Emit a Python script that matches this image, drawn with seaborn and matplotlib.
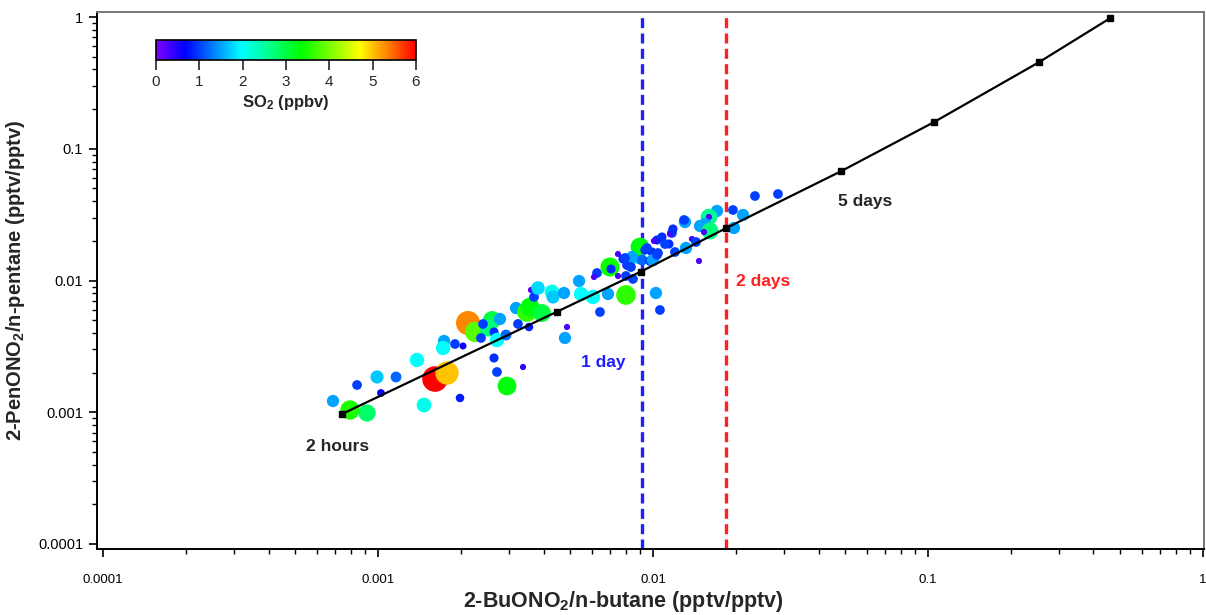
import numpy as np
import pandas as pd
import seaborn as sns
import matplotlib.pyplot as plt
from matplotlib.colors import LinearSegmentedColormap, Normalize

# observed alkyl nitrate / parent alkane ratios, coloured by SO2
buono2 = [0.000686, 0.000791, 0.000912, 0.000839, 0.001025, 0.000992, 0.001163, 0.001386,
          0.001612, 0.001782, 0.00147, 0.001987, 0.001738, 0.001724, 0.001905, 0.002038,
          0.002125, 0.002253, 0.002597, 0.002512, 0.002777, 0.002409, 0.002641, 0.002369,
          0.002708, 0.002921, 0.002641, 0.002708, 0.003368, 0.002945, 0.003176, 0.003229,
          0.003482, 0.00357, 0.003948, 0.003541, 0.003601, 0.003693, 0.003818, 0.004293,
          0.004329, 0.004748, 0.005383, 0.005474, 0.004868, 0.004786, 0.00605, 0.006416,
          0.006861, 0.007976, 0.01025, 0.0106, 0.006258, 0.006102, 0.006977, 0.007037,
          0.007461, 0.00778, 0.008044, 0.008248, 0.007461, 0.007976, 0.008457, 0.008745,
          0.008967, 0.009352, 0.00912, 0.009917, 0.009752, 0.01, 0.01043, 0.01034,
          0.01078, 0.01143, 0.01172, 0.01153, 0.01182, 0.01307, 0.01297, 0.01202,
          0.01318, 0.01386, 0.0147, 0.02349, 0.02848, 0.01954, 0.02125, 0.01709,
          0.01598, 0.01598, 0.01483, 0.01546, 0.01612, 0.01533, 0.0197, 0.01433,
          0.01106, 0.01008, 0.00951, 0.01034, 0.008388, 0.00791, 0.008318]
penono2 = [0.001217, 0.00104, 0.000987, 0.00161, 0.0014, 0.001852, 0.001852, 0.002493,
           0.001788, 0.001986, 0.001135, 0.001283, 0.003474, 0.003074, 0.003296, 0.003184,
           0.004757, 0.004066, 0.005014, 0.00436, 0.005103, 0.004675, 0.004066, 0.003661,
           0.003535, 0.003858, 0.002581, 0.002021, 0.002205, 0.001582, 0.006183, 0.00468,
           0.005767, 0.006292, 0.005667, 0.004437, 0.00847, 0.007496, 0.008772, 0.00818,
           0.007496, 0.008038, 0.009913, 0.007898, 0.004437, 0.003661, 0.007496, 0.005767,
           0.007898, 0.007761, 0.008038, 0.005973, 0.0114, 0.01063, 0.01266, 0.01223,
           0.01589, 0.01456, 0.01311, 0.01266, 0.01082, 0.01082, 0.01027, 0.01508,
           0.01796, 0.01704, 0.01431, 0.01645, 0.01406, 0.01431, 0.01617, 0.02029,
           0.02139, 0.01892, 0.02294, 0.02254, 0.0246, 0.0278, 0.02879, 0.01645,
           0.01765, 0.02065, 0.01406, 0.04379, 0.04534, 0.03428, 0.03143, 0.03369,
           0.03034, 0.03034, 0.02593, 0.02685, 0.02375, 0.02334, 0.02503, 0.0196,
           0.01892, 0.01994, 0.01765, 0.01562, 0.01508, 0.01482, 0.01266]
so2 = [1.5, 3.5, 2.8, 1.0, 0.7, 1.7, 1.2, 2.0,
       6.0, 5.0, 2.1, 0.8, 1.5, 2.0, 1.0, 0.6,
       5.3, 3.8, 3.0, 2.7, 1.5, 1.0, 0.9, 1.0,
       2.0, 1.2, 0.9, 1.0, 0.4, 3.3, 1.5, 1.0,
       3.6, 3.3, 3.0, 0.8, 0.3, 1.0, 1.8, 2.1,
       1.7, 1.5, 1.5, 2.0, 0.3, 1.5, 2.0, 1.0,
       1.5, 3.6, 1.5, 1.0, 1.0, 0.3, 3.4, 0.9,
       0.3, 0.9, 1.0, 0.8, 0.3, 1.0, 1.0, 1.8,
       3.3, 0.9, 1.2, 0.9, 1.0, 1.5, 1.0, 0.9,
       0.9, 0.9, 1.0, 0.3, 0.9, 1.5, 1.0, 1.0,
       1.5, 0.3, 0.3, 1.0, 1.0, 1.0, 1.5, 1.5,
       2.6, 0.3, 1.5, 1.5, 2.7, 0.3, 1.5, 1.0,
       1.0, 0.3, 1.0, 1.0, 1.5, 1.0, 1.0]

# photochemical clock (2 hours ... ~ weeks)
clock_bu = [0.00074, 0.00448, 0.00905, 0.0184, 0.0483, 0.105, 0.254, 0.46]
clock_pen = [0.00097, 0.0058, 0.0117, 0.0249, 0.0675, 0.159, 0.455, 0.98]

one_day = 0.0091
two_days = 0.0184

decades = [0.0001, 0.001, 0.01, 0.1, 1]
decade_labels = ['0.0001', '0.001', '0.01', '0.1', '1']

sns.set_style("ticks")
plt.rcParams['font.family'] = ['Liberation Sans', 'DejaVu Sans']
plt.rcParams['mathtext.default'] = 'regular'

rainbow = LinearSegmentedColormap.from_list(
    'igor_rainbow',
    [(0.0, '#8000ff'), (0.11, '#0000ff'), (0.33, '#00ffff'),
     (0.56, '#00ff00'), (0.785, '#ffff00'), (1.0, '#ff0000')])

df = pd.DataFrame({'bu': buono2, 'pen': penono2, 'so2': so2})

fig = plt.figure(figsize=(12.06, 6.15), dpi=100)
ax = fig.add_axes([97 / 1206, 66 / 615, 1107 / 1206, 537 / 615])

ax.axvline(one_day, color='#1f1fff', lw=2.4, ls=(0, (3, 1.6)), zorder=2)
ax.axvline(two_days, color='#ff2020', lw=2.4, ls=(0, (3, 1.6)), zorder=2)

sns.scatterplot(data=df, x='bu', y='pen', hue='so2', size='so2',
                palette=rainbow, hue_norm=(0, 6), size_norm=(0.5, 6), sizes=(20, 340),
                linewidth=0, legend=False, ax=ax, zorder=3)

ax.plot(clock_bu, clock_pen, color='black', lw=1.6, marker='s', ms=5, zorder=4)

ax.set_xscale('log')
ax.set_yscale('log')
ax.set_xlim(10 ** -4.022, 10 ** 0.004)
ax.set_ylim(10 ** -4.038, 10 ** 0.038)
ax.set_xticks(decades)
ax.set_xticklabels(decade_labels)
ax.set_yticks(decades)
ax.set_yticklabels(decade_labels)
ax.tick_params(which='major', direction='out', length=6, width=1.2, colors='black')
ax.tick_params(axis='x', which='major', labelsize=9.5, pad=12)
ax.tick_params(axis='y', which='major', labelsize=10.5, pad=4)
ax.tick_params(which='minor', direction='out', length=3.5, width=1.0, colors='black')

for side in ['left', 'bottom']:
    ax.spines[side].set_color('black')
    ax.spines[side].set_linewidth(1.4)
for side in ['top', 'right']:
    ax.spines[side].set_visible(True)
    ax.spines[side].set_color('#777777')
    ax.spines[side].set_linewidth(1.4)

ax.set_xlabel(r'2-BuONO$_2$/n-butane (pptv/pptv)', fontsize=15.5, fontweight='bold')
ax.xaxis.set_label_coords(0.475, -0.075)
ax.set_ylabel(r'2-PenONO$_2$/n-pentane (pptv/pptv)', fontsize=14.5, fontweight='bold')
ax.yaxis.set_label_coords(-0.063, 0.5)

ax.text(7.15e-4, 5.5e-4, '2 hours', fontsize=12.5, fontweight='bold', ha='center', va='center')
ax.text(6.6e-3, 2.37e-3, '1 day', fontsize=12.5, fontweight='bold', ha='center', va='center',
        color='#1f1fff')
ax.text(2.52e-2, 9.9e-3, '2 days', fontsize=12.5, fontweight='bold', ha='center', va='center',
        color='#ff2020')
ax.text(5.9e-2, 4.0e-2, '5 days', fontsize=12.5, fontweight='bold', ha='center', va='center')

# colour bar for SO2
cax = fig.add_axes([156 / 1206, 1 - 60 / 615, 260 / 1206, 20 / 615])
sm = plt.cm.ScalarMappable(cmap=rainbow, norm=Normalize(0, 6))
cb = fig.colorbar(sm, cax=cax, orientation='horizontal', ticks=range(7))
cb.outline.set_linewidth(1.2)
cb.outline.set_edgecolor('black')
cax.tick_params(length=7, width=1.2, labelsize=11, pad=4)
cb.set_label(r'SO$_2$ (ppbv)', fontsize=12, fontweight='bold', labelpad=3)

plt.savefig('out.png', dpi=100)
